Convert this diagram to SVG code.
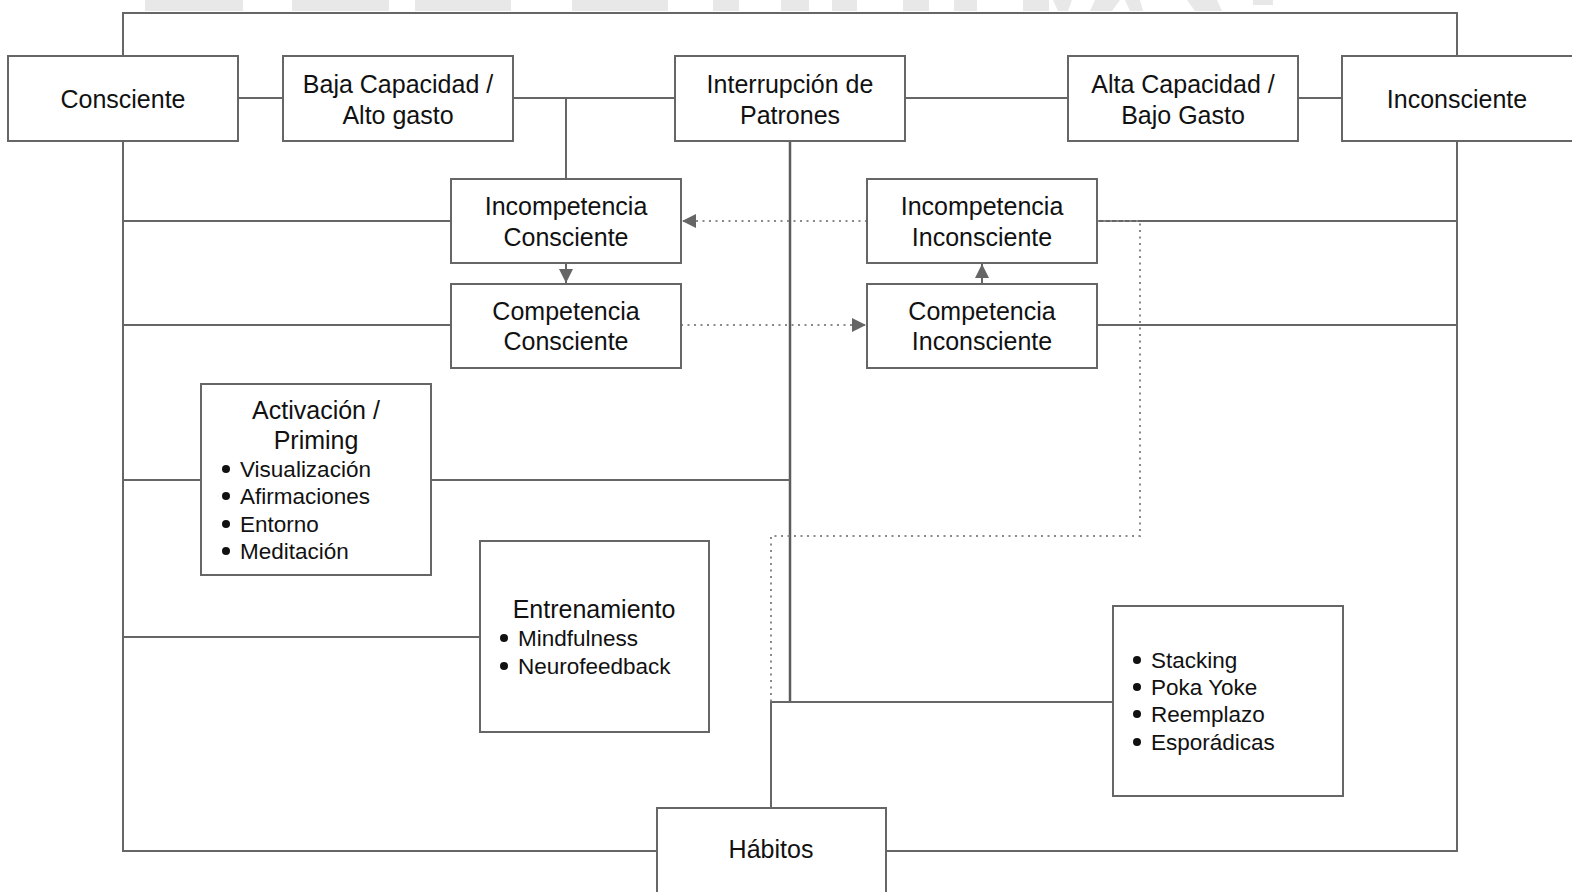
<svg xmlns="http://www.w3.org/2000/svg" width="1572" height="892" viewBox="0 0 1572 892">
  <style>
    .box { fill: #ffffff; stroke: #666666; stroke-width: 2; }
    .ln { fill: none; stroke: #666666; stroke-width: 2; }
    .spine { fill: none; stroke: #5c5c5c; stroke-width: 2.5; }
    .dot { fill: none; stroke: #8a8a8a; stroke-width: 2; stroke-dasharray: 2 4.5; }
    .t { font-family: "Liberation Sans", Arial, sans-serif; font-size: 25px; fill: #111111; text-anchor: middle; }
    .b { font-family: "Liberation Sans", Arial, sans-serif; font-size: 22.5px; fill: #111111; }
    .bul { fill: #111111; }
    .wm { fill: #e8e8e8; }
  </style>
  <defs>
    <marker id="arr" viewBox="0 0 10 10" refX="10" refY="5" markerWidth="7" markerHeight="7" orient="auto" markerUnits="strokeWidth">
      <path d="M0,0 L10,5 L0,10 Z" fill="#666666"/>
    </marker>
  </defs>

  <rect width="1572" height="892" fill="#ffffff"/>

  <!-- light grey band across the top edge -->
  <g id="band">
    <rect class="wm" x="145" y="0" width="98" height="11"/>
    <rect class="wm" x="292" y="0" width="97" height="11"/>
    <rect class="wm" x="415" y="0" width="96" height="11"/>
    <rect class="wm" x="572" y="0" width="96" height="11"/>
    <rect class="wm" x="713" y="0" width="26" height="11"/>
    <rect class="wm" x="781" y="0" width="28" height="11"/>
    <rect class="wm" x="832" y="0" width="25" height="11"/>
    <rect class="wm" x="903" y="0" width="26" height="11"/>
    <rect class="wm" x="954" y="0" width="23" height="11"/>
    <rect class="wm" x="1023" y="0" width="26" height="11"/>
    <polygon class="wm" points="1053,0 1072,0 1068,11 1058,11"/>
    <polygon class="wm" points="1095,0 1120,0 1112,11 1090,11"/>
    <polygon class="wm" points="1125,0 1140,0 1143,11 1130,11"/>
    <polygon class="wm" points="1187,0 1217,0 1222,11 1195,11"/>
    <rect class="wm" x="1253" y="0" width="20" height="5"/>
  </g>

  <!-- connectors -->
  <g id="connectors">
    <!-- outer frame -->
    <polyline class="ln" points="123,56 123,13 1457,13 1457,56"/>
    <polyline class="ln" points="123,141 123,851 657,851"/>
    <polyline class="ln" points="1457,141 1457,851 886,851"/>
    <!-- top row -->
    <line class="ln" x1="238" y1="98" x2="283" y2="98"/>
    <line class="ln" x1="513" y1="98" x2="675" y2="98"/>
    <line class="ln" x1="905" y1="98" x2="1068" y2="98"/>
    <line class="ln" x1="1298" y1="98" x2="1342" y2="98"/>
    <line class="ln" x1="566" y1="98" x2="566" y2="179"/>
    <!-- side branches -->
    <line class="ln" x1="123" y1="221" x2="451" y2="221"/>
    <line class="ln" x1="123" y1="325" x2="451" y2="325"/>
    <line class="ln" x1="123" y1="480" x2="201" y2="480"/>
    <line class="ln" x1="123" y1="637" x2="480" y2="637"/>
    <line class="ln" x1="1097" y1="221" x2="1457" y2="221"/>
    <line class="ln" x1="1097" y1="325" x2="1457" y2="325"/>
    <!-- central spine -->
    <polyline class="spine" points="790,141 790,702"/>
    <line class="ln" x1="431" y1="480" x2="790" y2="480"/>
    <polyline class="ln" points="1113,702 771,702 771,808"/>
    <!-- arrows between competence stages -->
    <line class="ln" x1="566" y1="263" x2="566" y2="283" marker-end="url(#arr)"/>
    <line class="ln" x1="982" y1="284" x2="982" y2="264" marker-end="url(#arr)"/>
    <line class="dot" x1="867" y1="221" x2="682" y2="221" marker-end="url(#arr)"/>
    <line class="dot" x1="681" y1="325" x2="866" y2="325" marker-end="url(#arr)"/>
    <polyline class="dot" points="1097,221 1140,221 1140,536 771,536 771,702"/>
  </g>

  <g id="consciente">
    <rect class="box" x="8" y="56" width="230" height="85"/>
    <text class="t" x="123" y="108">Consciente</text>
  </g>
  <g id="baja-capacidad">
    <rect class="box" x="283" y="56" width="230" height="85"/>
    <text class="t" x="398" y="93">Baja Capacidad /</text>
    <text class="t" x="398" y="124">Alto gasto</text>
  </g>
  <g id="interrupcion">
    <rect class="box" x="675" y="56" width="230" height="85"/>
    <text class="t" x="790" y="93">Interrupción de</text>
    <text class="t" x="790" y="124">Patrones</text>
  </g>
  <g id="alta-capacidad">
    <rect class="box" x="1068" y="56" width="230" height="85"/>
    <text class="t" x="1183" y="93">Alta Capacidad /</text>
    <text class="t" x="1183" y="124">Bajo Gasto</text>
  </g>
  <g id="inconsciente">
    <rect class="box" x="1342" y="56" width="240" height="85"/>
    <text class="t" x="1457" y="108">Inconsciente</text>
  </g>

  <g id="incompetencia-consciente">
    <rect class="box" x="451" y="179" width="230" height="84"/>
    <text class="t" x="566" y="215">Incompetencia</text>
    <text class="t" x="566" y="246">Consciente</text>
  </g>
  <g id="competencia-consciente">
    <rect class="box" x="451" y="284" width="230" height="84"/>
    <text class="t" x="566" y="320">Competencia</text>
    <text class="t" x="566" y="350">Consciente</text>
  </g>
  <g id="incompetencia-inconsciente">
    <rect class="box" x="867" y="179" width="230" height="84"/>
    <text class="t" x="982" y="215">Incompetencia</text>
    <text class="t" x="982" y="246">Inconsciente</text>
  </g>
  <g id="competencia-inconsciente">
    <rect class="box" x="867" y="284" width="230" height="84"/>
    <text class="t" x="982" y="320">Competencia</text>
    <text class="t" x="982" y="350">Inconsciente</text>
  </g>

  <g id="activacion">
    <rect class="box" x="201" y="384" width="230" height="191"/>
    <text class="t" x="316" y="419">Activación /</text>
    <text class="t" x="316" y="449">Priming</text>
    <circle class="bul" cx="226" cy="469" r="4"/>
    <circle class="bul" cx="226" cy="496" r="4"/>
    <circle class="bul" cx="226" cy="524" r="4"/>
    <circle class="bul" cx="226" cy="551" r="4"/>
    <text class="b" x="240" y="477">Visualización</text>
    <text class="b" x="240" y="504">Afirmaciones</text>
    <text class="b" x="240" y="532">Entorno</text>
    <text class="b" x="240" y="559">Meditación</text>
  </g>

  <g id="entrenamiento">
    <rect class="box" x="480" y="541" width="229" height="191"/>
    <text class="t" x="594" y="618">Entrenamiento</text>
    <circle class="bul" cx="504" cy="638" r="4"/>
    <circle class="bul" cx="504" cy="666" r="4"/>
    <text class="b" x="518" y="646">Mindfulness</text>
    <text class="b" x="518" y="674">Neurofeedback</text>
  </g>

  <g id="tecnicas-habitos">
    <rect class="box" x="1113" y="606" width="230" height="190"/>
    <circle class="bul" cx="1137" cy="660" r="4"/>
    <circle class="bul" cx="1137" cy="687" r="4"/>
    <circle class="bul" cx="1137" cy="714" r="4"/>
    <circle class="bul" cx="1137" cy="742" r="4"/>
    <text class="b" x="1151" y="668">Stacking</text>
    <text class="b" x="1151" y="695">Poka Yoke</text>
    <text class="b" x="1151" y="722">Reemplazo</text>
    <text class="b" x="1151" y="750">Esporádicas</text>
  </g>

  <g id="habitos">
    <rect class="box" x="657" y="808" width="229" height="100"/>
    <text class="t" x="771" y="858">Hábitos</text>
  </g>
</svg>
